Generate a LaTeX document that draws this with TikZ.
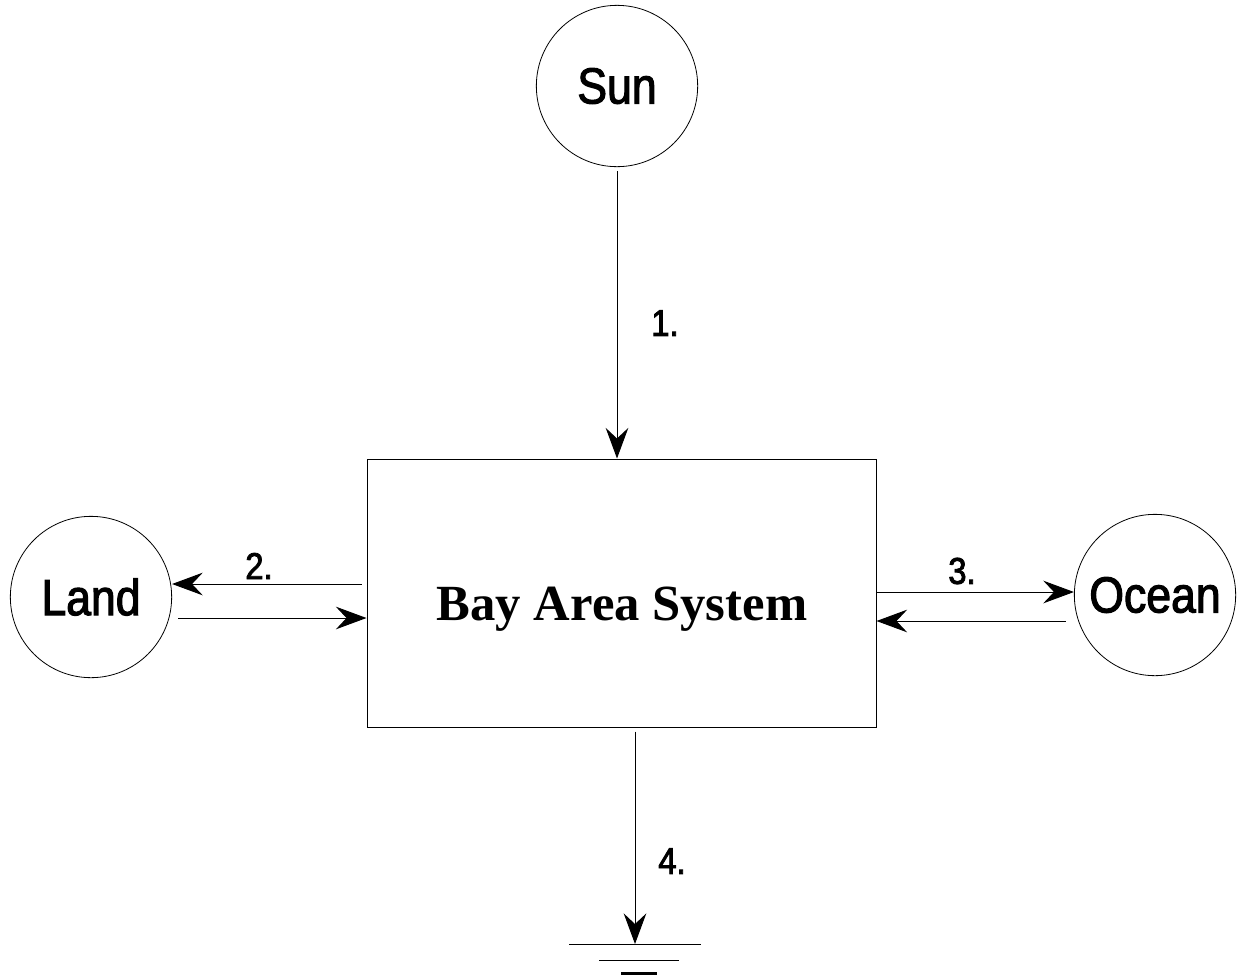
\documentclass[tikz,border=0pt]{standalone}
\usepackage{fontspec}
\setmainfont{Liberation Serif}
\newfontface\helvfont[FakeBold=2.2,FakeStretch=0.88]{Liberation Sans}
\usetikzlibrary{arrows.meta}

\begin{document}
\begin{tikzpicture}[x=0.75pt,y=0.75pt,yscale=-1,xscale=1,
  flow/.style={-{Stealth[length=23pt,width=17pt,inset=8pt]}, line width=0.75pt},
  body/.style={draw, circle, line width=0.6pt, minimum size=121pt, inner sep=0pt, font=\helvfont\fontsize{38}{43}\selectfont},
  num/.style={inner sep=0.75pt, font=\helvfont\fontsize{28}{32}\selectfont}]
\useasboundingbox (0,0) rectangle (1238,979);

% Sun, Land, Ocean
\node [body] (sun) at (617,86) {Sun};
\node [body] (land) at (91,597) {Land};
\node [body] (ocean) at (1155,595) {Ocean};

% System box
\node [draw, line width=0.75pt, minimum width=381.75pt, minimum height=201pt, inner sep=0pt] (sys) at (621.5,593) {};
\node [inner sep=0pt, font=\bfseries\fontsize{38}{44}\selectfont] (title) at (622,609) {Bay Area System};

% Sink
\coordinate (gnd) at (635,944);

% Flows
\draw [flow, shorten <=3pt] (sun.south) -- (sun.south |- sys.north);
\draw [flow, shorten <=3.75pt] ([yshift=-6.75pt]sys.west) -- ([yshift=-6.75pt]sys.west -| land.east);
\draw [flow, shorten <=4.5pt] ([yshift=18.75pt]sys.west -| land.east) -- ([yshift=18.75pt]sys.west);
\draw [flow] ([yshift=-0.75pt]sys.east) -- ([yshift=-0.75pt]sys.east -| ocean.west);
\draw [flow, shorten <=6pt] ([yshift=21pt]sys.east -| ocean.west) -- ([yshift=21pt]sys.east);
\draw [flow, shorten <=3pt] ([xshift=10.125pt]sys.south) -- (gnd);

% Ground
\draw [line width=0.75pt] (gnd) ++(-66,0) -- ++(132,0);
\draw [line width=0.75pt] (gnd) ++(-36,16) -- ++(80,0);
\draw [line width=2.2pt] (gnd) ++(-14,29.5) -- ++(36,0);

% Labels
\node [num] (n1) at (665,323) {1.};
\node [num] (n2) at (259,566) {2.};
\node [num] (n3) at (962,571) {3.};
\node [num] (n4) at (672,861) {4.};

\end{tikzpicture}
\end{document}
